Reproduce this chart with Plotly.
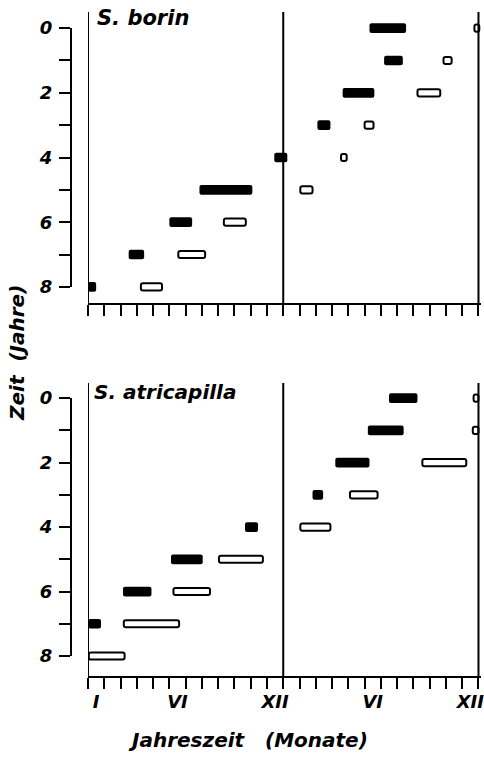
import plotly.graph_objects as go

# ---------------- data (months counted from January of year 1; 0..24) ----------------
# S. borin
borin_filled_year = [8, 7, 6, 5, 4, 3, 2, 1, 0]
borin_filled_start = [0.0, 2.5, 5.0, 6.85, 11.45, 14.1, 15.65, 18.2, 17.3]
borin_filled_end = [0.5, 3.45, 6.4, 10.1, 12.25, 14.9, 17.6, 19.35, 19.55]
borin_hollow_year = [8, 7, 6, 5, 4, 3, 2, 1, 0]
borin_hollow_start = [3.25, 5.55, 8.35, 13.05, 15.55, 17.0, 20.25, 21.85, 23.75]
borin_hollow_end = [4.55, 7.2, 9.7, 13.8, 15.9, 17.55, 21.65, 22.35, 24.05]

# S. atricapilla
atri_filled_year = [7, 6, 5, 4, 3, 2, 1, 0]
atri_filled_start = [0.0, 2.15, 5.1, 9.65, 13.8, 15.2, 17.2, 18.5]
atri_filled_end = [0.8, 3.9, 7.05, 10.45, 14.45, 17.3, 19.4, 20.25]
atri_hollow_year = [8, 7, 6, 5, 4, 3, 2, 1, 0]
atri_hollow_start = [0.05, 2.2, 5.25, 8.05, 13.05, 16.1, 20.55, 23.65, 23.7]
atri_hollow_end = [2.25, 5.6, 7.5, 10.75, 14.9, 17.8, 23.25, 24.0, 24.0]

year_ticks = [0, 1, 2, 3, 4, 5, 6, 7, 8]
year_labels = ["0", "", "2", "", "4", "", "6", "", "8"]
month_ticks = list(range(25))
month_label_pos = [0.5, 5.5, 11.5, 17.5, 23.5]
month_labels = ["I", "VI", "XII", "VI", "XII"]
year_boundaries = [0, 12, 24]

W, H = 484, 763
FONT = "DejaVu Sans"


def px_x(p):
    return p / W


def px_y(p):
    return 1 - p / H


fig = go.Figure()


def add_bars(years, starts, ends, xaxis, yaxis, filled):
    lengths = [e - s for s, e in zip(starts, ends)]
    fig.add_trace(go.Bar(
        y=years, x=lengths, base=starts, orientation="h",
        width=0.30 if filled else 0.22,
        marker=dict(color="black" if filled else "white",
                    line=dict(color="black", width=0 if filled else 2)),
        xaxis=xaxis, yaxis=yaxis,
        showlegend=False, hoverinfo="skip",
    ))


add_bars(borin_filled_year, borin_filled_start, borin_filled_end, "x", "y", True)
add_bars(borin_hollow_year, borin_hollow_start, borin_hollow_end, "x", "y", False)
add_bars(atri_filled_year, atri_filled_start, atri_filled_end, "x2", "y2", True)
add_bars(atri_hollow_year, atri_hollow_start, atri_hollow_end, "x2", "y2", False)

# invisible helper traces so that the separate year scales (y3, y4) are drawn
for ya, xa in (("y3", "x"), ("y4", "x2")):
    fig.add_trace(go.Scatter(x=[None], y=[None], xaxis=xa, yaxis=ya,
                             showlegend=False, hoverinfo="skip"))

PXM = 16.27
x_dom = [px_x(88), px_x(88 + 24.15 * PXM)]

tickfont = dict(family=FONT, size=18, color="black", style="italic", weight="bold")

common_x = dict(
    domain=x_dom, range=[0, 24.15], showgrid=False, zeroline=False,
    showline=True, linecolor="black", linewidth=2, automargin=False,
    tickvals=month_label_pos, ticktext=month_labels, ticks="",
    minor=dict(tickvals=month_ticks, ticks="outside", ticklen=11,
               tickwidth=2, tickcolor="black", showgrid=False),
    tickfont=tickfont, ticklabelstandoff=8, ticklabeloverflow="allow",
)
hidden_y = dict(showgrid=False, zeroline=False, showline=False,
                showticklabels=False, ticks="", automargin=False)
scale_y = dict(
    anchor="free", position=px_x(71), side="left",
    showgrid=False, zeroline=False, showline=True, linecolor="black",
    linewidth=2, range=[8, 0], automargin=False,
    tickvals=year_ticks, ticktext=year_labels, ticks="outside",
    ticklen=11, tickwidth=2, tickcolor="black", tickfont=tickfont,
    ticklabelstandoff=3,
)

fig.update_layout(
    width=W, height=H, margin=dict(l=0, r=0, t=0, b=0, pad=0),
    paper_bgcolor="white", plot_bgcolor="rgba(0,0,0,0)",
    barmode="overlay", barcornerradius=2,
    xaxis=dict(anchor="y", showticklabels=False, **common_x),
    xaxis2=dict(anchor="y2", showticklabels=True, **common_x),
    yaxis=dict(domain=[px_y(303), px_y(12)], range=[8.5, -0.5], anchor="x", **hidden_y),
    yaxis2=dict(domain=[px_y(676), px_y(383)], range=[8.62, -0.47], anchor="x2", **hidden_y),
    yaxis3=dict(domain=[px_y(287), px_y(28)], **scale_y),
    yaxis4=dict(domain=[px_y(656), px_y(398)], **scale_y),
)

shapes = []
for yref, xref in (("y", "x"), ("y2", "x2")):
    for b in year_boundaries:
        shapes.append(dict(type="line", xref=xref, yref=yref + " domain",
                           x0=b, x1=b, y0=0, y1=1,
                           line=dict(color="black", width=2)))
fig.update_layout(shapes=shapes)

titlefont = dict(family=FONT, size=20, color="black", style="italic", weight="bold")
fig.add_annotation(text="S. borin", xref="paper", yref="paper",
                   x=px_x(95), y=px_y(18), xanchor="left", yanchor="middle",
                   showarrow=False, font=dict(family=FONT, size=21, color="black",
                                              style="italic", weight="bold"))
fig.add_annotation(text="S. atricapilla", xref="paper", yref="paper",
                   x=px_x(92), y=px_y(392), xanchor="left", yanchor="middle",
                   showarrow=False, font=dict(family=FONT, size=20, color="black",
                                              style="italic", weight="bold"))
fig.add_annotation(text="Zeit&nbsp;&nbsp;(Jahre)", xref="paper", yref="paper",
                   x=px_x(17), y=px_y(353), xanchor="center", yanchor="middle",
                   textangle=-90, showarrow=False, font=titlefont)
fig.add_annotation(text="Jahreszeit&nbsp;&nbsp;&nbsp;(Monate)", xref="paper", yref="paper",
                   x=px_x(248), y=px_y(740), xanchor="center", yanchor="middle",
                   showarrow=False, font=titlefont)

fig.write_html("out.html", config={"displayModeBar": False},
               post_script="document.body.style.margin='0';document.body.style.padding='0';")
